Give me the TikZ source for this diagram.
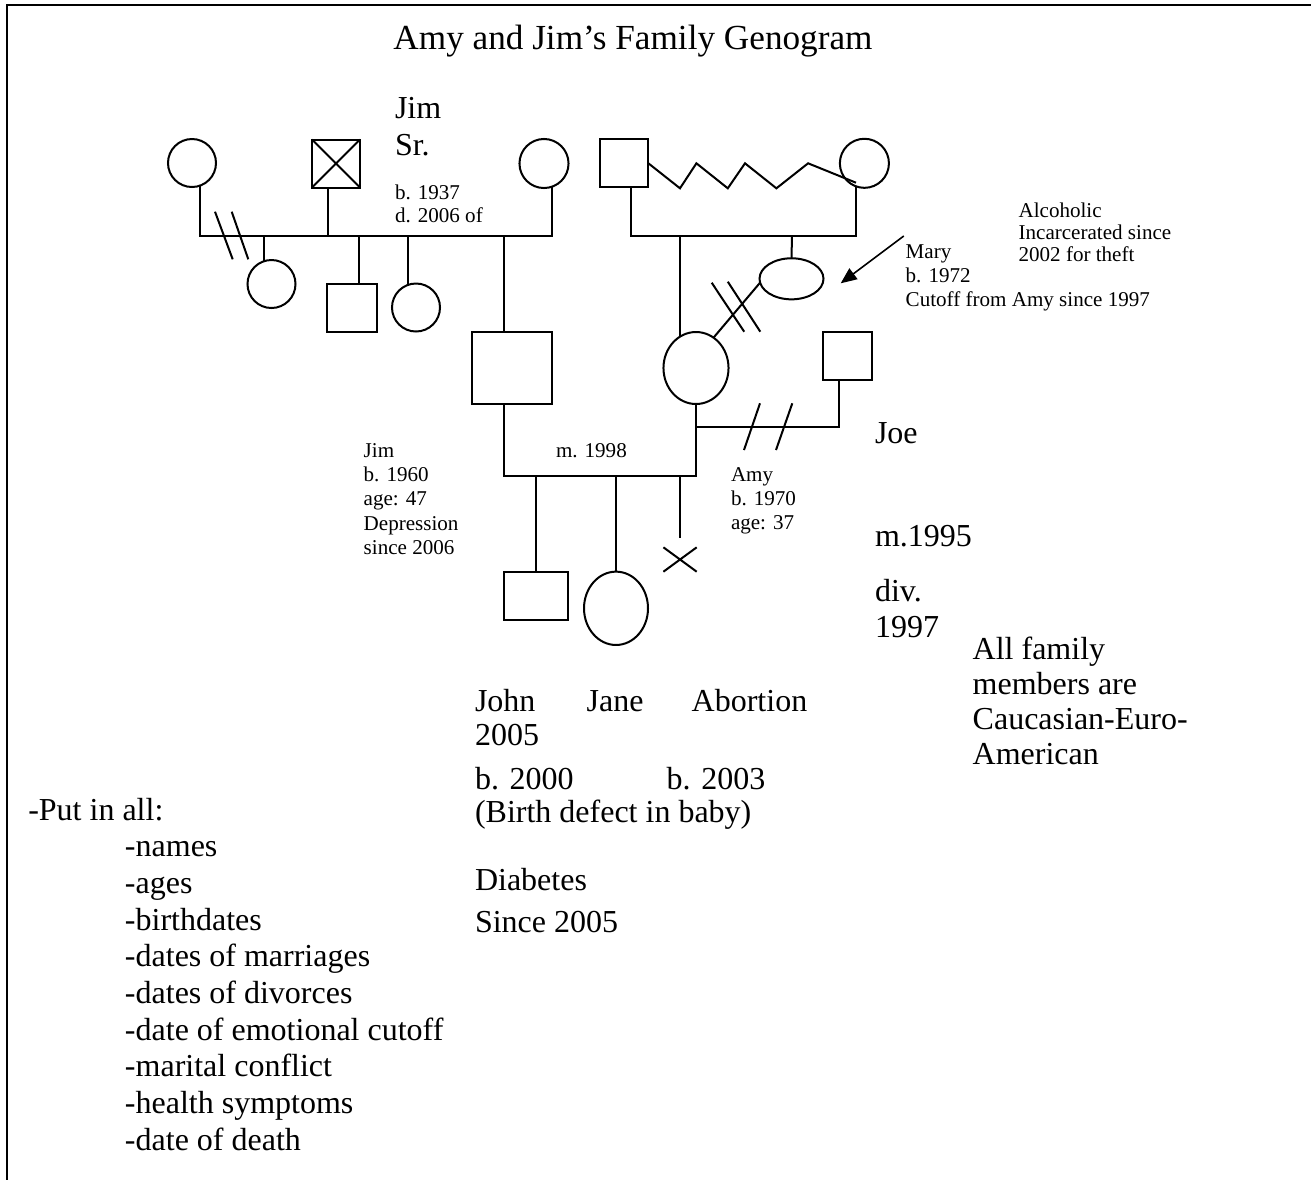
\documentclass[tikz,border=0pt]{standalone}
\usepackage{fontspec}
\setmainfont{Liberation Serif}
\usetikzlibrary{shapes.geometric,arrows.meta}
\begin{document}
\begin{tikzpicture}[x=0.375pt,y=-0.375pt,
  ln/.style={line width=0.75pt},
  thinln/.style={line width=0.4pt},
  circ/.style={draw,circle,inner sep=0pt,outer sep=0pt,line width=0.75pt,minimum size=18pt},
  ell/.style={draw,ellipse,inner sep=0pt,outer sep=0pt,line width=0.75pt},
  sq/.style={draw,rectangle,inner sep=0pt,outer sep=0pt,line width=0.75pt},
  txt/.style={inner sep=0pt,outer sep=0pt,anchor=base west},
  big/.style={txt,font=\fontsize{12}{14}\selectfont},
  small/.style={txt,font=\fontsize{7.9}{9}\selectfont},
  ttl/.style={inner sep=0pt,outer sep=0pt,anchor=base,font=\fontsize{13.2}{15}\selectfont}]
\useasboundingbox (0,0) rectangle (1311,1180);
% frame
\coordinate (fTL) at (7,5);
\coordinate (fTR) at (1311,5);
\coordinate (fBL) at (7,1180);
\draw[line width=0.85pt] (fTR) -- (fTL) -- (fBL);
% title
\node[ttl] (title) at (633,49) {Amy and Jim’s Family Genogram};
% ---------- paternal side ----------
\node[circ] (gm1) at (192,163) {};
\node[sq,minimum width=18pt,minimum height=18pt] (gs) at (336,163.5) {};
\draw[ln] (gs.north west) -- (gs.south east) (gs.north east) -- (gs.south west);
\node[circ,minimum size=18.4pt] (gm2) at (544,163.5) {};
\coordinate (sibL) at (200,236);
\coordinate (sibR) at (552,236);
\draw[ln] (200,186) -- (sibL) -- (sibR) -- (552,187);
\draw[ln] (gs.south -| 328,0) -- (328,236);
% slashes (divorce)
\draw[ln] (215,211.7) -- (232.7,259.3);
\draw[ln] (231.7,211.7) -- (248.3,259.3);
% children of Jim Sr.
\node[circ] (hs1) at (271.5,284) {};
\node[sq,minimum width=18.4pt,minimum height=18pt] (hb1) at (352,307.5) {};
\node[circ] (hs2) at (416,307.5) {};
\node[sq,minimum width=30pt,minimum height=27pt] (jim) at (512,368) {};
\draw[ln] (264,236) -- (264,261);
\draw[ln] (359.3,236) -- (hb1.north -| 359.3,0);
\draw[ln] (407.7,236) -- (407.7,284.5);
\draw[ln] (504,236) -- (jim.north -| 504,0);
% ---------- maternal side ----------
\node[sq,minimum width=18pt,minimum height=18pt] (mgf) at (624,163) {};
\node[circ,minimum size=18.4pt] (mgm) at (864.4,163.3) {};
\draw[ln] (mgf.east |- 0,163) -- (680,188.3) -- (696.4,163.3) -- (727.8,188.3) -- (745,163.3) -- (776.4,188.3) -- (808.1,163.3) -- (856,182.7);
\coordinate (parL) at (631.3,236);
\coordinate (parR) at (856,236);
\draw[ln] (mgf.south -| parL) -- (parL) -- (parR) -- (856,186.3);
\node[ell,minimum width=24pt,minimum height=15.4pt] (mary) at (791.5,278.8) {};
\node[ell,minimum width=24.4pt,minimum height=27pt] (amy) at (696,368) {};
\draw[ln] (792,236) -- (mary.north);
\draw[ln] (680,236) -- (680,336.7);
% cutoff Amy-Mary
\draw[ln] (amy.60) -- (mary.187);
\draw[ln] (711.7,282.7) -- (744.2,331.7);
\draw[ln] (727.8,281.7) -- (760.3,331.7);
% arrow to Mary
\coordinate (arrS) at (903.8,236);
\draw[line width=0.6pt,-{Triangle[length=6pt,width=5pt]}] (arrS) -- (840.7,283.3);
% Joe
\node[sq,minimum width=18.2pt,minimum height=18pt] (joe) at (847.7,356) {};
\coordinate (jcorner) at (839.4,427.3);
\draw[ln] (joe.south -| jcorner) -- (jcorner) -- (696,427.3);
\draw[ln] (760,403.3) -- (744,450);
\draw[ln] (792.3,403.3) -- (776,450);
% marriage Jim-Amy
\coordinate (mL) at (504,475.5);
\coordinate (mR) at (696,475.5);
\draw[ln] (jim.south -| mL) -- (mL) -- (536,475.5);
\draw[thinln] (536,476) -- (664.5,476);
\draw[ln] (664.5,475.5) -- (mR) -- (amy.south);
% children
\node[sq,minimum width=24pt,minimum height=18pt] (john) at (536,596) {};
\node[ell,minimum width=24pt,minimum height=27.5pt] (jane) at (616,608.3) {};
\draw[ln] (536,476) -- (john.north);
\draw[ln] (616.3,476) -- (jane.north -| 616.3,0);
\draw[ln] (680,476) -- (680,538.3);
\coordinate (abA) at (663.4,547.3);
\coordinate (abB) at (696.7,571.7);
\coordinate (abC) at (663.4,571.7);
\coordinate (abD) at (696.7,547.3);
\draw[ln] (abA) -- (abB) (abC) -- (abD);
% ---------- texts ----------
\node[big] (t1) at (395,118) {Jim};
\node[big] (t2) at (395,155) {Sr.};
\node[small] (t3) at (395,199) {b. 1937};
\node[small] (t4) at (395,222.7) {d. 2006 of};
\node[small] (t5) at (1018.6,217) {Alcoholic};
\node[small] (t6) at (1018.6,239) {Incarcerated since};
\node[small] (t7) at (1018.6,261) {2002 for theft};
\node[small] (t8) at (905.7,258) {Mary};
\node[small] (t9) at (905.7,282) {b. 1972};
\node[small] (t10) at (905.7,306) {Cutoff from Amy since 1997};
\node[small] (t11) at (363.7,457) {Jim};
\node[small] (t12) at (363.7,481.3) {b. 1960};
\node[small] (t13) at (363.7,505.6) {age: 47};
\node[small] (t14) at (363.7,530) {Depression};
\node[small] (t15) at (363.7,554.3) {since 2006};
\node[small] (t16) at (556,457) {m. 1998};
\node[small] (t17) at (731,481) {Amy};
\node[small] (t18) at (731,505) {b. 1970};
\node[small] (t19) at (731,529) {age: 37};
\node[big] (t20) at (875,443) {Joe};
\node[big] (t21) at (875,546.7) {m.1995};
\node[big] (t22) at (875,601.7) {div.};
\node[big] (t23) at (875,637.3) {1997};
\node[big] (t24) at (972.7,659.3) {All family};
\node[big] (t25) at (972.7,694.5) {members are};
\node[big] (t26) at (972.7,729.7) {Caucasian-Euro-};
\node[big] (t27) at (972.7,764.9) {American};
\node[big] (t28) at (475,711.7) {John};
\node[big] (t29) at (586.7,711.7) {Jane};
\node[big] (t30) at (691.7,711.7) {Abortion};
\node[big] (t31) at (475,745) {2005};
\node[big] (t32) at (475,789.3) {b. 2000};
\node[big] (t33) at (666.7,789.3) {b. 2003};
\node[big] (t34) at (475,822) {(Birth defect in baby)};
\node[big] (t35) at (475,890) {Diabetes};
\node[big] (t36) at (475,932.7) {Since 2005};
\node[big] (t37) at (28.3,820) {-Put in all:};
\node[big] (l1) at (125,856.7) {-names};
\node[big] (l2) at (125,893.4) {-ages};
\node[big] (l3) at (125,930.1) {-birthdates};
\node[big] (l4) at (125,966.8) {-dates of marriages};
\node[big] (l5) at (125,1003.5) {-dates of divorces};
\node[big] (l6) at (125,1040.2) {-date of emotional cutoff};
\node[big] (l7) at (125,1076.9) {-marital conflict};
\node[big] (l8) at (125,1113.6) {-health symptoms};
\node[big] (l9) at (125,1150.3) {-date of death};
\end{tikzpicture}
\end{document}
